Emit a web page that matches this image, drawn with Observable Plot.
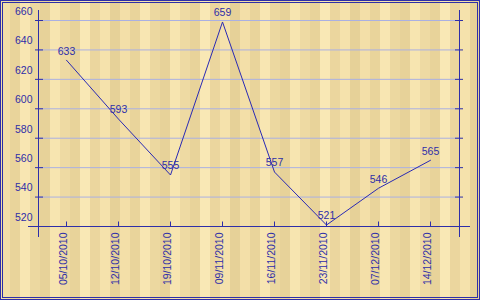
<!DOCTYPE html>
<html>
<head>
<meta charset="utf-8">
<script src="https://cdn.jsdelivr.net/npm/d3@7"></script>
<script src="https://cdn.jsdelivr.net/npm/@observablehq/plot@0.6"></script>
<style>
  html, body { margin: 0; padding: 0; background: #f3e1ac; }
</style>
</head>
<body>
<div id="chart"></div>
<script>
const dates = ["05/10/2010","12/10/2010","19/10/2010","09/11/2010","16/11/2010","23/11/2010","07/12/2010","14/12/2010"];
const values = [633, 593, 555, 659, 557, 521, 546, 565];
const yTicks = [520, 540, 560, 580, 600, 620, 640, 660];
const gridTicks = [540, 560, 580, 600, 620, 640, 660];

const data = dates.map((d, i) => ({date: d, value: values[i]}));

const blue = "#2e2ea8";
const lineBlue = "#2a2ab4";
const gridBlue = "#aab0e2";

const wood = "repeating-linear-gradient(90deg," +
  "#f3dfa8 0px,#f3dfa8 10px," +
  "#e9d49b 10px,#e9d49b 20px," +
  "#f8e6b2 20px,#f8e6b2 30px," +
  "#ecd8a0 30px,#ecd8a0 40px," +
  "#e7d299 40px,#e7d299 50px," +
  "#f7e5b0 50px,#f7e5b0 60px," +
  "#eedaa3 60px,#eedaa3 70px," +
  "#e8d39a 70px,#e8d39a 80px," +
  "#f9e8b5 80px,#f9e8b5 90px," +
  "#ebd69e 90px,#ebd69e 100px," +
  "#f5e2ac 100px,#f5e2ac 110px," +
  "#e6d198 110px,#e6d198 120px)";

const chart = Plot.plot({
  width: 480,
  height: 300,
  marginLeft: 38,
  marginRight: 21,
  marginTop: 10,
  marginBottom: 64,
  style: {
    background: wood,
    fontFamily: "'Liberation Sans', Arial, sans-serif",
    fontSize: "10.5px",
    color: blue
  },
  x: {type: "point", domain: dates, range: [64, 432], padding: 0, axis: null},
  y: {domain: [520, 660], range: [226, 20], axis: null},
  marks: [
    // grid lines
    Plot.ruleY(gridTicks, {stroke: gridBlue, strokeWidth: 1}),
    // outer double border
    Plot.frame({stroke: blue, insetLeft: -38, insetTop: -10, insetRight: -20, insetBottom: -63}),
    Plot.frame({stroke: blue, insetLeft: -36, insetTop: -8, insetRight: -18, insetBottom: -61}),
    // left and right axis lines
    Plot.frame({anchor: "left", stroke: blue}),
    Plot.frame({anchor: "right", stroke: blue}),
    // x axis line
    Plot.ruleY([yTicks[0]], {stroke: blue, insetLeft: -10, insetRight: -11}),
    // y ticks (left and right), crossing the axis lines
    Plot.ruleY(yTicks, {stroke: blue, insetLeft: -3, insetRight: 416}),
    Plot.ruleY(yTicks, {stroke: blue, insetLeft: 417, insetRight: -4}),
    // x ticks
    Plot.ruleX(dates, {x: d => d, stroke: blue, insetTop: 211.5, insetBottom: 9.5}),
    // y tick labels
    Plot.text(yTicks, {y: d => d, text: d => String(d), frameAnchor: "left", textAnchor: "end", dx: -6, dy: -9, fill: blue}),
    // x tick labels, rotated
    Plot.text(dates, {x: d => d, text: d => d, frameAnchor: "bottom", rotate: -90, textAnchor: "end", dy: -4, fill: blue}),
    // data line
    Plot.line(data, {x: "date", y: "value", stroke: lineBlue, strokeWidth: 1}),
    // value labels
    Plot.text(data, {x: "date", y: "value", text: d => String(d.value), dy: -9, fill: blue})
  ]
});

document.getElementById("chart").appendChild(chart);
</script>
</body>
</html>
